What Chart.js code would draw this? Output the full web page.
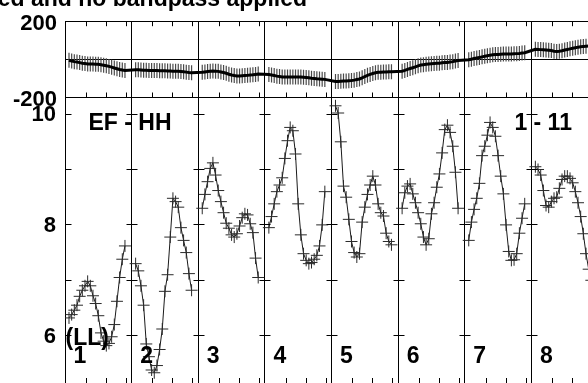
<!DOCTYPE html>
<html>
<head>
<meta charset="utf-8">
<script src="https://cdn.jsdelivr.net/npm/chart.js@4.4.1/dist/chart.umd.min.js"></script>
<style>
  html, body { margin: 0; padding: 0; background: #fff; }
  body { width: 588px; height: 383px; overflow: hidden; position: relative; }
  .box { position: absolute; left: 0; width: 620px; }
  #phaseBox { top: 0; height: 130px; z-index: 2; }
  #ampBox { top: 70px; height: 340px; z-index: 1; }
</style>
</head>
<body>
<div class="box" id="phaseBox"><canvas id="phaseChart"></canvas></div>
<div class="box" id="ampBox"><canvas id="ampChart"></canvas></div>
<script>
/* ── data ── */
const titleText   = 'ed and no bandpass applied';
const scanLabels  = ['1', '2', '3', '4', '5', '6', '7', '8'];
const scanEdges   = [0, 1, 2, 3, 4, 5, 6, 7, 8];
const scanTimes   = [0.06, 0.10, 0.14, 0.18, 0.22, 0.26, 0.30, 0.34, 0.38, 0.42, 0.46,
                     0.50, 0.54, 0.58, 0.62, 0.66, 0.70, 0.74, 0.78, 0.82, 0.86, 0.90];
const minorTicks  = [0.32, 0.62, 0.92];
const phaseTicks  = [-200, 200];
const ampTicks    = [6, 8, 10];
const ampTickMarks = [6, 7, 8, 9, 10];

const ph1 = [-5, -9, -12, -14, -17, -20, -22, -24, -25, -25, -26, -26, -28, -31, -34, -37, -41, -45, -49, -53, -56, -58];
const ph2 = [-54, -55, -56, -57, -57, -58, -58, -59, -59, -60, -60, -60, -61, -61, -62, -62, -63, -64, -65, -67, -69, -70];
const ph3 = [-68, -66, -64, -62, -61, -62, -63, -66, -69, -73, -78, -82, -85, -87, -87, -86, -85, -84, -82, -81, -79, -77];
const ph4 = [-80, -82, -85, -88, -90, -92, -92, -92, -92, -92, -92, -92, -93, -94, -95, -97, -99, -100, -102, -103, -104, -105];
const ph5 = [-116, -116, -115, -114, -113, -112, -111, -109, -106, -103, -97, -90, -84, -79, -74, -70, -68, -67, -66, -66, -65, -65];
const ph6 = [-62, -58, -53, -48, -44, -39, -34, -30, -28, -26, -24, -23, -22, -21, -20, -18, -17, -16, -14, -12, -9, -6];
const ph7 = [-2, 1, 4, 7, 10, 13, 16, 19, 22, 24, 25, 26, 27, 28, 28, 28, 28, 29, 30, 31, 33, 35];
const ph8 = [53, 52, 51, 50, 49, 48, 46, 43, 41, 42, 45, 49, 52, 55, 58, 61, 64, 66, 68, 69, 70, 71];

const amp1 = [6.32, 6.38, 6.46, 6.55, 6.71, 6.82, 6.90, 6.98, 6.90, 6.72, 6.58, 6.36, 6.05, 5.90, 5.82, 5.86, 5.98, 6.20, 6.62, 7.05, 7.38, 7.62];
const amp2 = [7.30, 7.17, 6.90, 6.55, 5.85, 5.62, 5.38, 5.33, 5.46, 5.75, 6.12, 6.80, 7.10, 7.78, 8.48, 8.42, 8.32, 7.95, 7.72, 7.50, 7.12, 6.82];
const amp3 = [8.30, 8.55, 8.78, 9.02, 9.12, 8.90, 8.62, 8.42, 8.22, 8.03, 7.94, 7.82, 7.78, 7.84, 7.98, 8.13, 8.20, 8.18, 8.02, 7.86, 7.40, 7.05];
const amp4 = [7.95, 8.15, 8.38, 8.60, 8.72, 8.85, 9.20, 9.52, 9.76, 9.70, 9.28, 8.38, 7.82, 7.48, 7.36, 7.30, 7.32, 7.38, 7.45, 7.62, 8.00, 8.60];
const amp5 = [10.15, 10.02, 9.50, 8.70, 8.50, 8.10, 7.70, 7.50, 7.42, 7.48, 8.05, 8.32, 8.55, 8.72, 8.88, 8.72, 8.38, 8.22, 8.16, 7.85, 7.70, 7.64];
const amp6 = [8.30, 8.58, 8.70, 8.74, 8.56, 8.40, 8.22, 8.02, 7.78, 7.64, 7.75, 8.20, 8.40, 8.68, 8.92, 9.30, 9.72, 9.80, 9.67, 9.42, 8.95, 8.30];
const amp7 = [7.72, 8.05, 8.28, 8.48, 8.75, 9.25, 9.42, 9.62, 9.85, 9.76, 9.60, 9.25, 8.88, 8.56, 8.00, 7.52, 7.36, 7.37, 7.48, 7.85, 8.12, 8.38];
const amp8 = [9.05, 9.00, 8.90, 8.62, 8.35, 8.32, 8.42, 8.48, 8.50, 8.66, 8.82, 8.88, 8.88, 8.84, 8.76, 8.60, 8.40, 8.15, 7.84, 7.48, 7.20, 7.00];

const phaseScans = [ph1, ph2, ph3, ph4, ph5, ph6, ph7, ph8];
const ampScans   = [amp1, amp2, amp3, amp4, amp5, amp6, amp7, amp8];

/* ── helpers ── */
const FONT = '"Liberation Sans", Arial, Helvetica, sans-serif';
const align = v => Math.round(v - 0.5) + 0.5;
const edgeTicks = () => scanEdges.map(v => ({ value: v }));

const phasePoints = [];
phaseScans.forEach((scan, i) => scan.forEach((v, j) => phasePoints.push({ x: i + scanTimes[j], y: v })));

/* ── Phase panel decorations ── */
const phaseDecor = {
  id: 'phaseDecor',
  afterDraw(chart) {
    const { ctx, chartArea, scales: { x } } = chart;
    ctx.save();
    ctx.strokeStyle = '#000';
    ctx.lineWidth = 1;
    ctx.beginPath();
    scanLabels.forEach((_, i) => minorTicks.forEach(t => {
      const px = align(x.getPixelForValue(i + t));
      ctx.moveTo(px, chartArea.top); ctx.lineTo(px, chartArea.top + 5);
      ctx.moveTo(px, chartArea.bottom); ctx.lineTo(px, chartArea.bottom - 5);
    }));
    ctx.stroke();
    ctx.fillStyle = '#000';
    ctx.font = 'bold 23px ' + FONT;
    ctx.textAlign = 'right';
    ctx.textBaseline = 'alphabetic';
    ctx.fillText(titleText, 307, 6);
    ctx.restore();
  }
};

/* ── Amplitude panel decorations ── */
const ampDecor = {
  id: 'ampDecor',
  afterDraw(chart) {
    const { ctx, chartArea, scales: { x, y } } = chart;
    ctx.save();
    ctx.strokeStyle = '#000';
    ctx.lineWidth = 1;
    ctx.beginPath();
    scanEdges.forEach(d => {
      const px = align(x.getPixelForValue(d));
      ampTickMarks.forEach(v => {
        const py = align(y.getPixelForValue(v));
        ctx.moveTo(d === 0 ? px : px - 5, py); ctx.lineTo(px + 6, py);
      });
    });
    scanLabels.forEach((_, i) => minorTicks.forEach(t => {
      const px = align(x.getPixelForValue(i + t));
      ctx.moveTo(px, chartArea.bottom); ctx.lineTo(px, chartArea.bottom - 6);
    }));
    ctx.stroke();

    ctx.fillStyle = '#000';
    ctx.font = 'bold 23px ' + FONT;
    ctx.textAlign = 'left';
    ctx.textBaseline = 'alphabetic';
    const top = y.getPixelForValue(10);
    const low = y.getPixelForValue(6);
    ctx.fillText('EF - HH', x.getPixelForValue(0) + 23.5, top + 15.5);
    ctx.fillText('1 - 11', x.getPixelForValue(7) - 17, top + 16.3);
    ctx.fillText('(LL)', x.getPixelForValue(0) + 0.5, low + 9.3);
    scanLabels.forEach((lab, i) => ctx.fillText(lab, x.getPixelForValue(i) + 8.5, low + 27.6));
    ctx.restore();
  }
};

/* ── Phase chart ── */
new Chart(document.getElementById('phaseChart'), {
  type: 'line',
  data: {
    datasets: [{
      data: phasePoints,
      borderColor: '#000',
      borderWidth: 3,
      pointRadius: 0,
      tension: 0,
      order: 0,
    }, {
      data: phasePoints,
      showLine: false,
      pointStyle: 'line',
      rotation: 90,
      pointRadius: 7.5,
      pointBorderColor: '#4a4a4a',
      pointBorderWidth: 1.2,
      order: 1,
    }]
  },
  options: {
    animation: false,
    responsive: true,
    maintainAspectRatio: false,
    devicePixelRatio: 1,
    events: [],
    layout: { padding: { top: 16.5, bottom: 32.5, left: 0, right: 22 } },
    plugins: { legend: { display: false }, tooltip: { enabled: false } },
    scales: {
      x: {
        type: 'linear', min: 0, max: 8,
        afterBuildTicks: s => { s.ticks = edgeTicks(); },
        afterFit: s => { s.height = 0; },
        ticks: { display: false },
        grid: { color: '#000', lineWidth: 1, drawTicks: false },
        border: { display: false },
      },
      y: {
        min: -200, max: 200,
        afterBuildTicks: s => { s.ticks = [-200, 0, 200].map(v => ({ value: v })); },
        afterFit: s => { s.width = 65; },
        ticks: {
          callback: v => phaseTicks.includes(v) ? String(v) : '',
          color: '#000',
          font: { family: FONT, size: 22, weight: 'bold' },
          padding: 8,
          labelOffset: 2.5,
        },
        grid: { color: '#000', lineWidth: 1, drawTicks: false },
        border: { color: '#000', width: 1 },
      }
    }
  },
  plugins: [phaseDecor]
});

/* ── Amplitude chart ── */
new Chart(document.getElementById('ampChart'), {
  type: 'line',
  data: {
    datasets: ampScans.map((scan, i) => ({
      label: 'Scan ' + scanLabels[i],
      data: scan.map((v, j) => ({ x: i + scanTimes[j], y: v })),
      borderColor: '#1a1a1a',
      borderWidth: 1,
      pointStyle: 'cross',
      pointRadius: 6,
      pointBorderColor: '#2a2a2a',
      pointBorderWidth: 1,
      tension: 0,
    }))
  },
  options: {
    animation: false,
    responsive: true,
    maintainAspectRatio: false,
    devicePixelRatio: 1,
    events: [],
    layout: { padding: { top: 27.5, bottom: 26, left: 0, right: 22 } },
    plugins: { legend: { display: false }, tooltip: { enabled: false } },
    scales: {
      x: {
        type: 'linear', min: 0, max: 8,
        afterBuildTicks: s => { s.ticks = edgeTicks(); },
        afterFit: s => { s.height = 0; },
        ticks: { display: false },
        grid: { color: '#000', lineWidth: 1, drawTicks: false },
        border: { display: false },
      },
      y: {
        min: 5.127, max: 10.30,
        afterBuildTicks: s => { s.ticks = ampTicks.map(v => ({ value: v })); },
        afterFit: s => { s.width = 65; },
        ticks: {
          color: '#000',
          font: { family: FONT, size: 22, weight: 'bold' },
          padding: 9,
          labelOffset: 1,
        },
        grid: { drawOnChartArea: false, drawTicks: false },
        border: { color: '#000', width: 1 },
      }
    }
  },
  plugins: [ampDecor]
});
</script>
</body>
</html>
